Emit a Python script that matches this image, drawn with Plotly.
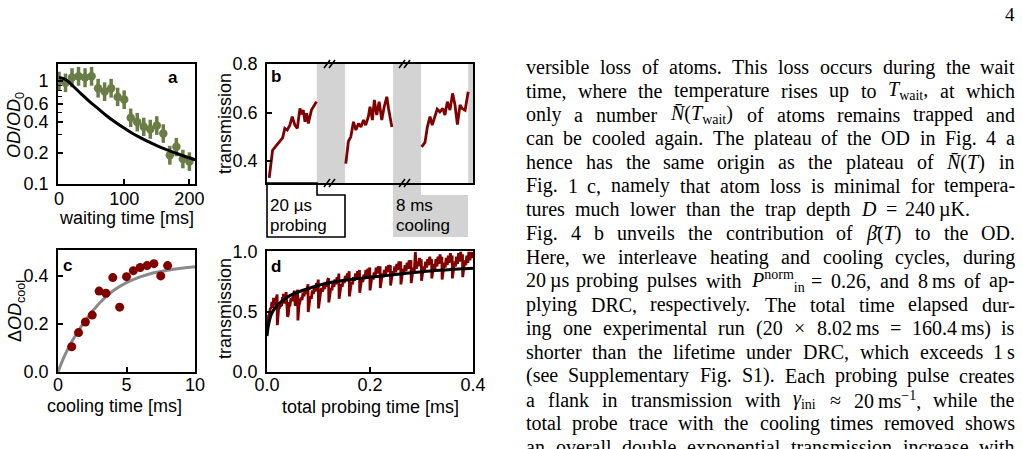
import re
import plotly.graph_objects as go

# ---------------- data ----------------
# (a) OD decay during waiting time
wait_time_ms = [0, 10, 20, 30, 40, 50, 60, 70, 80, 90, 100, 110, 120, 130, 140, 150, 160, 170, 180, 190, 200]
od_norm = [1.00, 0.96, 1.08, 1.11, 1.08, 1.11, 0.85, 0.79, 0.85, 0.70, 0.66, 0.44, 0.40, 0.36, 0.34, 0.37,
           0.31, 0.19, 0.23, 0.175, 0.165]
od_err_up = [0.23, 0.22, 0.25, 0.26, 0.25, 0.26, 0.20, 0.18, 0.20, 0.16, 0.15, 0.10, 0.09, 0.08, 0.08, 0.085,
             0.07, 0.045, 0.05, 0.04, 0.038]
od_err_down = [0.19, 0.18, 0.21, 0.21, 0.21, 0.21, 0.16, 0.15, 0.16, 0.13, 0.125, 0.083, 0.076, 0.068, 0.065,
               0.07, 0.059, 0.036, 0.044, 0.033, 0.031]
fit_a_time_ms = [0, 8, 15, 21, 34, 47, 60, 73, 86, 98, 111, 124, 137, 150, 163, 176, 190, 209]
fit_a_od = [1.08, 1.05, 0.98, 0.90, 0.75, 0.63, 0.54, 0.46, 0.40, 0.355, 0.315, 0.284, 0.258, 0.236, 0.218,
            0.203, 0.188, 0.172]

# (b) first three probing pulses (time within pulse in us, transmission)
pulse1_t_us = [0, 1.4, 3.1, 4.4, 5.6, 6.5, 7.5, 8.6, 9.6, 10.7, 11.7, 12.8, 13.5, 14.2, 14.9, 15.6, 16.3, 17.6, 19.7]
pulse1_T = [0.331, 0.445, 0.466, 0.48, 0.496, 0.535, 0.528, 0.548, 0.583, 0.548, 0.535, 0.617, 0.593, 0.61,
            0.562, 0.597, 0.555, 0.61, 0.645]
pulse2_t_us = [0, 1.1, 2.1, 3.2, 4.2, 5.3, 6.3, 7.4, 8.3, 9.4, 10.1, 11.1, 11.9, 12.9, 13.9, 15.0, 16.0, 17.1,
               17.8, 19.2]
pulse2_T = [0.39, 0.482, 0.50, 0.562, 0.528, 0.555, 0.541, 0.569, 0.548, 0.583, 0.624, 0.569, 0.652, 0.59,
            0.645, 0.569, 0.624, 0.665, 0.617, 0.541]
pulse3_t_us = [0, 1.4, 2.4, 3.5, 4.4, 5.6, 6.5, 7.6, 8.8, 9.7, 10.7, 11.8, 12.9, 13.9, 14.9, 16.0, 16.9, 18.1, 19.4]
pulse3_T = [0.459, 0.477, 0.541, 0.583, 0.548, 0.583, 0.614, 0.603, 0.617, 0.59, 0.645, 0.61, 0.679, 0.631,
            0.551, 0.631, 0.617, 0.61, 0.686]

# (c) OD recovered vs cooling time
cool_time_ms = [1.0, 1.5, 2.0, 2.5, 3.0, 3.5, 4.0, 4.5, 5.0, 5.5, 6.0, 6.5, 7.0, 7.5, 8.0]
delta_od_cool = [0.105, 0.164, 0.208, 0.237, 0.337, 0.328, 0.393, 0.27, 0.397, 0.422, 0.435, 0.443, 0.451,
                 0.40, 0.443]
fit_c_time_ms = [0, 0.5, 1, 2, 3, 4, 5, 6, 7, 8, 9, 10]
fit_c_od = [0, 0.07, 0.126, 0.215, 0.285, 0.337, 0.372, 0.396, 0.413, 0.424, 0.432, 0.438]

# (d) pulses 4..20 (time within pulse in us) and double-exponential fit
later_t_us = [0, 2, 4, 6, 8, 10, 12, 14, 16, 18, 19.6]
later_pulses_T = [
    [0.43, 0.55, 0.58, 0.62, 0.60, 0.66, 0.63, 0.69, 0.65, 0.71, 0.73],
    [0.50, 0.60, 0.63, 0.61, 0.68, 0.65, 0.71, 0.67, 0.74, 0.72, 0.77],
    [0.53, 0.63, 0.66, 0.70, 0.67, 0.72, 0.69, 0.75, 0.71, 0.77, 0.78],
    [0.58, 0.66, 0.70, 0.68, 0.74, 0.71, 0.77, 0.73, 0.79, 0.76, 0.82],
    [0.61, 0.69, 0.73, 0.71, 0.77, 0.74, 0.80, 0.76, 0.82, 0.79, 0.84],
    [0.63, 0.72, 0.75, 0.73, 0.79, 0.76, 0.82, 0.78, 0.84, 0.80, 0.85],
    [0.66, 0.74, 0.78, 0.75, 0.81, 0.78, 0.85, 0.80, 0.86, 0.83, 0.87],
    [0.68, 0.76, 0.80, 0.77, 0.83, 0.80, 0.87, 0.82, 0.88, 0.84, 0.88],
    [0.70, 0.78, 0.82, 0.79, 0.85, 0.81, 0.88, 0.83, 0.89, 0.86, 0.89],
    [0.72, 0.80, 0.84, 0.81, 0.88, 0.83, 0.90, 0.85, 0.92, 0.88, 0.92],
    [0.73, 0.81, 0.86, 0.82, 0.89, 0.84, 0.91, 0.86, 0.93, 0.89, 0.93],
    [0.74, 0.83, 0.87, 0.84, 1.00, 0.86, 0.92, 0.88, 0.95, 0.90, 0.94],
    [0.76, 0.84, 0.88, 0.85, 0.92, 0.87, 0.94, 0.89, 0.96, 0.91, 0.94],
    [0.78, 0.85, 0.90, 0.86, 0.94, 0.88, 0.96, 0.90, 0.98, 0.92, 0.96],
    [0.77, 0.86, 0.91, 0.87, 0.95, 0.89, 0.97, 0.91, 0.99, 0.93, 0.97],
    [0.78, 0.87, 0.92, 0.88, 0.96, 0.90, 0.99, 0.92, 1.00, 0.94, 0.98],
    [0.79, 0.88, 0.93, 0.89, 0.97, 0.91, 1.00, 0.93, 1.00, 0.95, 1.00],
]
pulse_length_us = 20
fit_d_time_ms = [0, 0.002, 0.006, 0.012, 0.019, 0.035, 0.051, 0.084, 0.116, 0.18, 0.245, 0.31, 0.4]
fit_d_T = [0.30, 0.37, 0.45, 0.51, 0.55, 0.61, 0.65, 0.70, 0.74, 0.78, 0.81, 0.84, 0.865]

# ---------------- helpers ----------------
W, H = 1022, 449
SANS = "Liberation Sans, Arial, sans-serif"
SERIF = "Liberation Serif, Times New Roman, serif"
MAROON = "#800000"
GREEN = "#6b7d46"
BAND = "#d3d3d3"


def fx(x):
    return x / W


def fy(y):
    return 1 - y / H


fig = go.Figure()

# (a)
fig.add_trace(go.Scatter(x=wait_time_ms, y=od_norm, mode="markers", xaxis="x", yaxis="y",
                         marker=dict(color=GREEN, size=8.5),
                         error_y=dict(type="data", array=od_err_up, arrayminus=od_err_down,
                                      color=GREEN, thickness=3.5, width=0)))
fig.add_trace(go.Scatter(x=fit_a_time_ms, y=fit_a_od, mode="lines", xaxis="x", yaxis="y",
                         line=dict(color="black", width=3, shape="spline")))

# (b) broken time axis: three pulses separated by cooling bands
b_offsets = [0.5, 32.4, 64.0]
for off, t, v in zip(b_offsets, [pulse1_t_us, pulse2_t_us, pulse3_t_us], [pulse1_T, pulse2_T, pulse3_T]):
    fig.add_trace(go.Scatter(x=[off + ti for ti in t], y=v, mode="lines", xaxis="x2", yaxis="y2",
                             line=dict(color=MAROON, width=2.8)))

# (c)
fig.add_trace(go.Scatter(x=fit_c_time_ms, y=fit_c_od, mode="lines", xaxis="x3", yaxis="y3",
                         line=dict(color="#8a8a8a", width=3, shape="spline")))
fig.add_trace(go.Scatter(x=cool_time_ms, y=delta_od_cool, mode="markers", xaxis="x3", yaxis="y3",
                         marker=dict(color=MAROON, size=9)))

# (d)
all_pulses = [(pulse1_t_us, pulse1_T), (pulse2_t_us, pulse2_T), (pulse3_t_us, pulse3_T)] + \
             [(later_t_us, v) for v in later_pulses_T]
d_time, d_T = [], []
for k, (t, v) in enumerate(all_pulses):
    d_time += [(k * pulse_length_us + ti) / 1000 for ti in t]
    d_T += v
fig.add_trace(go.Scatter(x=d_time, y=d_T, mode="lines", xaxis="x4", yaxis="y4",
                         line=dict(color=MAROON, width=2.8)))
fig.add_trace(go.Scatter(x=fit_d_time_ms, y=fit_d_T, mode="lines", xaxis="x4", yaxis="y4",
                         line=dict(color="black", width=3, shape="spline")))

common = dict(showline=True, mirror=True, linecolor="black", linewidth=1.6, ticks="inside", ticklen=5,
              tickwidth=1.5, tickcolor="black", showgrid=False, zeroline=False, automargin=False,
              tickfont=dict(family=SANS, size=18, color="black"))
ycommon = dict(common, ticklabelstandoff=4)

fig.update_layout(
    template="none",
    width=W, height=H, margin=dict(l=0, r=0, t=0, b=0, pad=0, autoexpand=False), autosize=False,
    paper_bgcolor="white", plot_bgcolor="rgba(0,0,0,0)", showlegend=False,
    xaxis=dict(common, ticklabelstandoff=-2, domain=[fx(58), fx(195)], range=[-1.5, 208.6], anchor="y",
               tickvals=[0, 100, 200], ticktext=["0", "100", "200"]),
    yaxis=dict(ycommon, domain=[fy(184), fy(64)], type="log", range=[-1.0, 0.165], anchor="x",
               tickvals=[0.1, 0.2, 0.4, 0.6, 1.0], ticktext=["0.1", "0.2", "0.4", "0.6", "1"],
               minor=dict(tickvals=[0.3, 0.5, 0.7, 0.8, 0.9], ticks="inside", ticklen=4,
                          tickwidth=1.2, tickcolor="black", showgrid=False)),
    xaxis2=dict(common, domain=[fx(267), fx(473)], range=[-0.42, 85.4], anchor="y2",
                ticks="", showticklabels=False),
    yaxis2=dict(ycommon, domain=[fy(183), fy(64)], range=[0.31, 0.8], anchor="x2",
                tickvals=[0.4, 0.6, 0.8], ticktext=["0.4", "0.6", "0.8"]),
    xaxis3=dict(common, ticklabelstandoff=-4, domain=[fx(58), fx(195)], range=[0, 10], anchor="y3",
                tickvals=[0, 5, 10], ticktext=["0", "5", "10"]),
    yaxis3=dict(ycommon, domain=[fy(372), fy(250)], range=[0, 0.508], anchor="x3",
                tickvals=[0, 0.2, 0.4], ticktext=["0.0", "0.2", "0.4"]),
    xaxis4=dict(common, ticklabelstandoff=-4, domain=[fx(267), fx(473)], range=[0, 0.4], anchor="y4",
                tickvals=[0, 0.2, 0.4], ticktext=["0.0", "0.2", "0.4"]),
    yaxis4=dict(ycommon, domain=[fy(372), fy(251)], range=[0, 1.008], anchor="x4",
                tickvals=[0, 0.5, 1.0], ticktext=["0.0", "0.5", "1.0"]),
)

shapes = []
# cooling bands in (b)
for x0, x1 in [(20.3, 32.1), (52.1, 63.8), (83.4, 86.0)]:
    shapes.append(dict(type="rect", xref="x2", yref="y2 domain", x0=x0, x1=x1, y0=0, y1=1,
                       fillcolor=BAND, line=dict(width=0), layer="below"))
# axis break marks
for xc in [330, 405]:
    for yc in [64, 183]:
        for dx in (-3, 2):
            shapes.append(dict(type="line", xref="paper", yref="paper",
                               x0=fx(xc + dx - 3), y0=fy(yc + 4), x1=fx(xc + dx + 3), y1=fy(yc - 4),
                               line=dict(color="black", width=1.5)))
# "20 us probing" outline
path = "M {a},{b} L {c},{b} L {c},{d} L {e},{d} L {e},{f} L {a},{f} Z".format(
    a=fx(267), b=fy(183), c=fx(317), d=fy(195), e=fx(345), f=fy(237))
shapes.append(dict(type="path", xref="paper", yref="paper", path=path,
                   line=dict(color="black", width=1.6), fillcolor="rgba(0,0,0,0)"))
# "8 ms cooling" grey block
shapes.append(dict(type="rect", xref="paper", yref="paper", x0=fx(393), x1=fx(421), y0=fy(237), y1=fy(183),
                   fillcolor=BAND, line=dict(width=0), layer="below"))
shapes.append(dict(type="rect", xref="paper", yref="paper", x0=fx(421), x1=fx(468), y0=fy(237), y1=fy(195),
                   fillcolor=BAND, line=dict(width=0), layer="below"))
fig.update_layout(shapes=shapes)


def ann(text, x, y, size=18, xanchor="center", yanchor="middle", angle=0, family=SANS):
    return dict(text=text, x=fx(x), y=fy(y), xref="paper", yref="paper", showarrow=False,
                xanchor=xanchor, yanchor=yanchor, textangle=angle, borderpad=0, borderwidth=0,
                font=dict(family=family, size=size, color="black"))


anns = [
    ann("waiting time [ms]", 126.7, 218),
    ann("<i>OD</i>/<i>OD</i><sub>0</sub>", 16, 125, angle=-90),
    ann("transmission", 225, 124, angle=-90),
    ann("Δ<i>OD</i><sub>cool</sub>", 16, 311, angle=-90),
    ann("cooling time [ms]", 114, 406),
    ann("total probing time [ms]", 370.5, 407),
    ann("transmission", 225, 309, angle=-90),
    ann("<b>a</b>", 172.7, 77, size=17),
    ann("<b>b</b>", 276, 76, size=17),
    ann("<b>c</b>", 67, 265, size=17),
    ann("<b>d</b>", 276, 266, size=17),
    ann("20 µs", 270, 205, size=17, xanchor="left"),
    ann("probing", 270, 225, size=17, xanchor="left"),
    ann("8 ms", 396, 205, size=17, xanchor="left"),
    ann("cooling", 396, 225, size=17, xanchor="left"),
    ann("4", 1010, 15, size=19, family=SERIF),
]

# ---------------- justified body text ----------------
TW = dict(zip("abcdefghijklmnopqrstuvwxyz",
              [444, 500, 444, 500, 444, 333, 500, 500, 278, 278, 500, 278, 778, 500, 500, 500, 500, 333, 389,
               278, 500, 500, 722, 500, 500, 444]))
TW.update(dict(zip("ABCDEFGHIJKLMNOPQRSTUVWXYZ",
                   [722, 667, 667, 722, 611, 556, 722, 722, 333, 389, 722, 611, 889, 722, 722, 556, 722, 667,
                    556, 611, 722, 722, 944, 722, 722, 611])))
TW.update({c: 500 for c in "0123456789"})
TW.update({" ": 250, ".": 250, ",": 250, ":": 278, "(": 333, ")": 333, "-": 333, "=": 564, "×": 564,
           "≈": 549, "µ": 500, "β": 500, "γ": 420, "−": 564, "\u2009": 167, "\u0304": 0, "/": 278})


def text_width(html, size):
    w, scale = 0.0, 1.0
    for tok in re.split(r"(<[^>]+>)", html):
        if tok.startswith("<"):
            if tok in ("<sub>", "<sup>"):
                scale = 0.7
            elif tok in ("</sub>", "</sup>"):
                scale = 1.0
            continue
        for ch in tok:
            w += TW.get(ch, 500) * scale
    return w * size / 1000


T = "\u2009"
body_lines = [
    ("versible loss of atoms. This loss occurs during the wait", 1015),
    ("time, where the temperature rises up to <i>T</i><sub>wait</sub>, at which", 1015),
    ("only a number <i>N\u0304</i>(<i>T</i><sub>wait</sub>) of atoms remains trapped and", 1015),
    ("can be cooled again. The plateau of the OD in Fig. 4 a", 1015),
    ("hence has the same origin as the plateau of <i>N\u0304</i>(<i>T</i>) in", 1015),
    ("Fig. 1 c, namely that atom loss is minimal for tempera-", 1015),
    ("tures much lower than the trap depth <i>D</i> = 240" + T + "µK.", 970),
    ("Fig. 4 b unveils the contribution of <i>β\u0304</i>(<i>T</i>) to the OD.", 1015),
    ("Here, we interleave heating and cooling cycles, during", 1015),
    ("20" + T + "µs probing pulses with <i>P</i><sup>norm</sup><sub>in</sub> = 0.26, and 8" + T + "ms of ap-", 1015),
    ("plying DRC, respectively. The total time elapsed dur-", 1015),
    ("ing one experimental run (20 × 8.02" + T + "ms = 160.4" + T + "ms) is", 1015),
    ("shorter than the lifetime under DRC, which exceeds 1" + T + "s", 1015),
    ("(see Supplementary Fig. S1). Each probing pulse creates", 1015),
    ("a flank in transmission with <i>γ</i><sub>ini</sub> ≈ 20" + T + "ms<sup>−1</sup>, while the", 1015),
    ("total probe trace with the cooling times removed shows", 1015),
    ("an overall double exponential transmission increase with", 1015),
]
FS = 20
X_LEFT = 526
for i, (line, x_right) in enumerate(body_lines):
    y = 67 + 23.75 * i
    words = line.split(" ")
    widths = [text_width(w, FS) for w in words]
    gap = (x_right - X_LEFT - sum(widths)) / (len(words) - 1)
    x = X_LEFT
    for j, (w, wd) in enumerate(zip(words, widths)):
        if j == len(words) - 1:
            anns.append(ann(w, x_right, y, size=FS, xanchor="right", family=SERIF))
        else:
            anns.append(ann(w, x, y, size=FS, xanchor="left", family=SERIF))
        x += wd + gap

fig.update_layout(annotations=anns)
fig.write_html("out.html")
